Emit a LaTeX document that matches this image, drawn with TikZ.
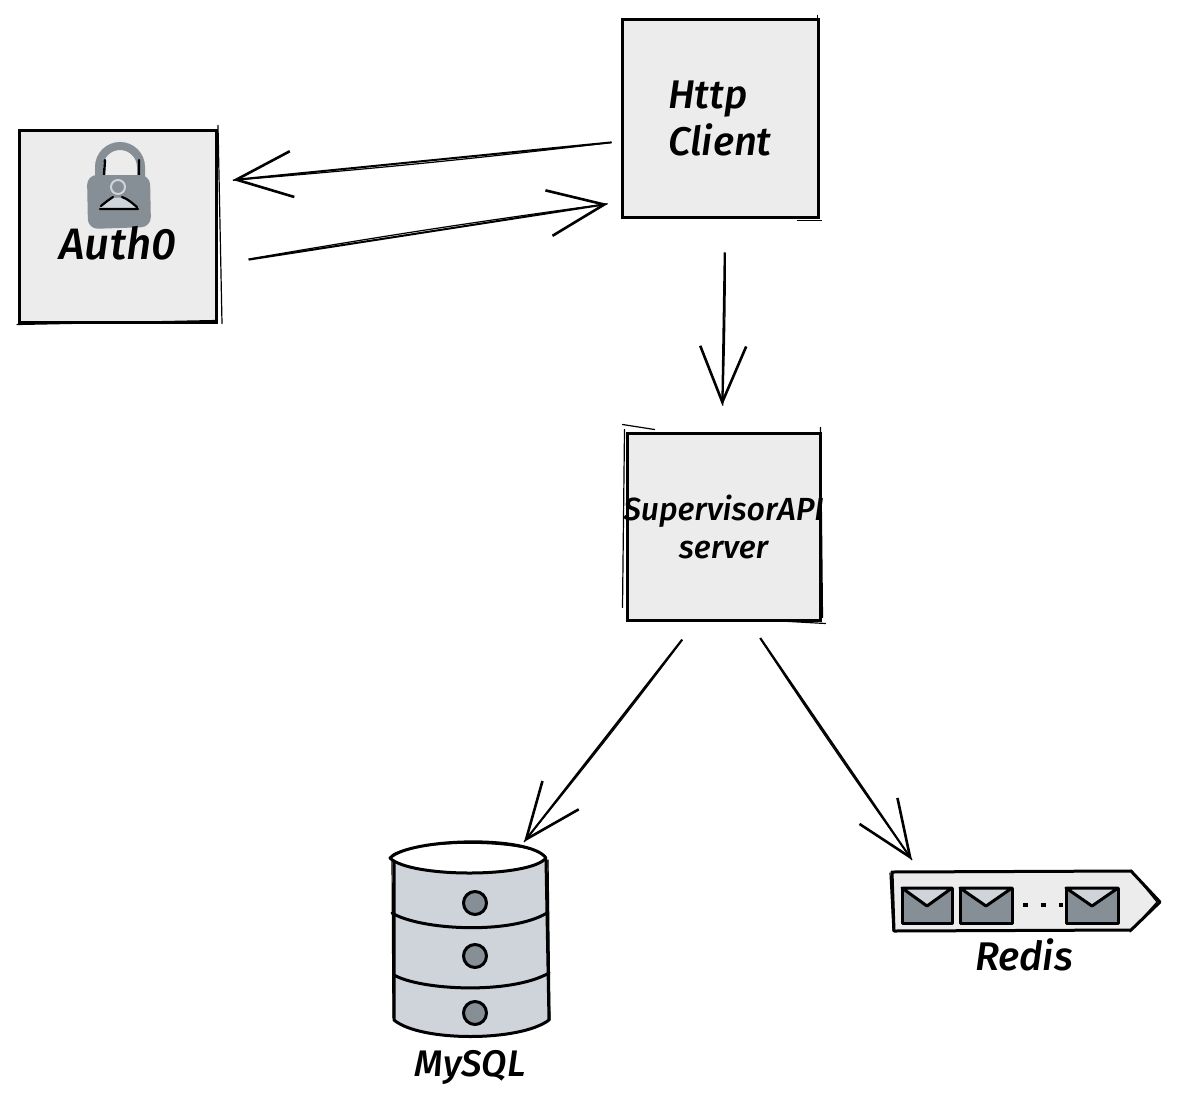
\documentclass[tikz,border=0pt]{standalone}
\usepackage{fontspec}
\setmainfont{Fira Sans}[ItalicFont={Fira Sans Medium Italic}]
\usetikzlibrary{positioning,calc,arrows.meta}
\definecolor{boxfill}{HTML}{ECECEC}
\definecolor{iconfill}{HTML}{868E96}
\definecolor{dbfill}{HTML}{CED4DA}
\tikzset{dpad0/.style={draw=black, line width=3pt, fill=boxfill, inner sep=0pt, align=left, font=\itshape\fontsize{40}{47}\selectfont}}
\tikzset{lab/.style={inner sep=0pt, font=\itshape\fontsize{40}{46}\selectfont}}
\tikzset{arr/.style={draw, line width=2pt, -{Straight Barb[length=56pt,width=46pt,line width=2.6pt]}}}
\tikzset{arr2/.style={draw, line width=1.2pt}}
\tikzset{sk/.style={line width=3pt, line cap=round, line join=round}}
\tikzset{sk2/.style={line width=1.2pt, line cap=round}}
\begin{document}
\begin{tikzpicture}[x=1pt,y=-1pt]
	\useasboundingbox (0,0) rectangle (1180,1108);
	\node[dpad0, minimum width=197pt, minimum height=192pt] (auth) at (118,226) {};
	\node[dpad0, minimum width=196pt, minimum height=197pt] (client) at (720,118.5) {Http\\Client};
	\node[dpad0, minimum width=193pt, minimum height=187pt, inner xsep=-6pt, align=center, font=\itshape\fontsize{32}{38}\selectfont] (api) at (723.5,526.5) {SupervisorAPI\\server};
	% second strokes of the boxes
	\draw[sk2] (auth.north east) ++(0,-3) -- ++(4,198);
	\draw[sk2] (auth.south west) ++(-1,1) -- ++(200,-4);
	\draw[sk2] (client.north east) ++(-2,-3) -- ++(0,200);
	\draw[sk2] (client.south east) ++(-22,2) -- ++(24,0);
	\draw[sk2] (api.north west) ++(-3,-7) -- ++(32,5);
	\draw[sk2] (api.north west) ++(-1,-2) -- ++(-2,178);
	\draw[sk2] (api.north east) ++(-1,-4) -- ++(2,190);
	\draw[sk2] (api.south east) ++(-50,-1) -- ++(54,3);
	% lock
	\draw[line width=8pt, iconfill] (99,182) -- (99,167) arc[start angle=180, end angle=0, radius=21pt] -- (141,182);
	\draw[sk, line width=2.4pt] (104,175) -- (105,160) (139,175) -- (139,160);
	\draw[iconfill, fill=iconfill, line width=2pt, rounded corners=9pt] (88,176) -- (149,176) -- (150,226) -- (89,228) -- cycle;
	\fill[dbfill] (100,208) .. controls (108,194) and (128,194) .. (137,208) -- cycle;
	\draw[sk, line width=2.2pt] (100,209) -- (138,209) (101,206) .. controls (107,201) and (110,199) .. (113,197) (122,197) .. controls (128,199) and (132,203) .. (137,207);
	\draw[dbfill, line width=2pt, fill=iconfill] (118,187) circle[radius=7pt];
	\node[lab, font=\itshape\fontsize{44}{50}\selectfont] (authlabel) at (118,243) {Auth0};
	% arrows
	\draw[arr] (client.193) [shorten <=9pt, shorten >=15pt] to (auth.24);
	\draw[arr2, shorten <=9pt, shorten >=15pt, yshift=-2pt] (client.193) to[bend left=1] (auth.24);
	\draw[arr] (auth.-21.5) [shorten <=31pt, shorten >=13pt] to (client.220);
	\draw[arr2, shorten <=31pt, shorten >=13pt, yshift=2pt] (auth.-21.5) to[bend left=1] (client.220);
	\draw[arr] (client.-87) [shorten <=34pt, shorten >=26pt] to (api.91);
	\draw[arr2, shorten <=34pt, shorten >=26pt, xshift=2pt] (client.-87) to[bend left=1] (api.91);
	\coordinate (dbtop) at (524,842);
	\coordinate (queuetop) at (912,860);
	\draw[arr] (api.-106) [shorten <=23pt] to (dbtop);
	\draw[arr2, shorten <=23pt, xshift=2pt] (api.-106) to[bend left=1] (dbtop);
	\draw[arr] (api.-75) [shorten <=20pt] to (queuetop);
	\draw[arr2, shorten <=20pt, xshift=-4pt] (api.-75) to[bend right=1] (queuetop);
	% database
	\fill[dbfill] (393,860) -- (393,1020) .. controls (420,1042) and (520,1042) .. (550,1020) -- (549,860) -- cycle;
	\draw[sk] (394,860) -- (394,1020) .. controls (420,1042) and (520,1042) .. (549,1020) -- (546,860);
	\draw[sk2] (392,860) -- (393,1018) (550,1020) -- (548,860);
	\draw[sk, fill=white] (390,858) .. controls (410,838) and (530,835) .. (546,858) .. controls (530,878) and (410,878) .. (390,858) -- cycle;
	\draw[sk2] (392,855) .. controls (410,842) and (500,838) .. (540,852);
	\draw[sk] (392,913) .. controls (420,930) and (510,935) .. (547,913);
	\draw[sk] (394,975) .. controls (420,990) and (510,995) .. (549,973);
	\foreach \y in {903,956,1013}
		\draw[sk, fill=iconfill] (475,\y) circle[radius=11.5pt];
	\node[lab, font=\itshape\fontsize{37}{42}\selectfont] (dblabel) at (470,1067) {MySQL};
	% queue
	\draw[sk, fill=boxfill] (892,872) -- (1131,871) -- (1160,902) -- (1131,930) -- (894,931) -- cycle;
	\draw[sk2] (890,873) -- (893,931) (1131,870) -- (1157,902) -- (1130,932);
	\foreach \x/\w in {902/50,960/52,1066/52} {
		\draw[sk, fill=iconfill] (\x,888) rectangle ++(\w,35);
		\draw[sk, fill=dbfill] (\x,888) -- ++(0.5*\w,18) -- ++(0.5*\w,-18) -- cycle;
	}
	\draw[line width=4pt, dash pattern=on 5pt off 13pt] (1023,905) -- (1063,905);
	\node[lab] (queuelabel) at (1024,955) {Redis};
\end{tikzpicture}
\end{document}
